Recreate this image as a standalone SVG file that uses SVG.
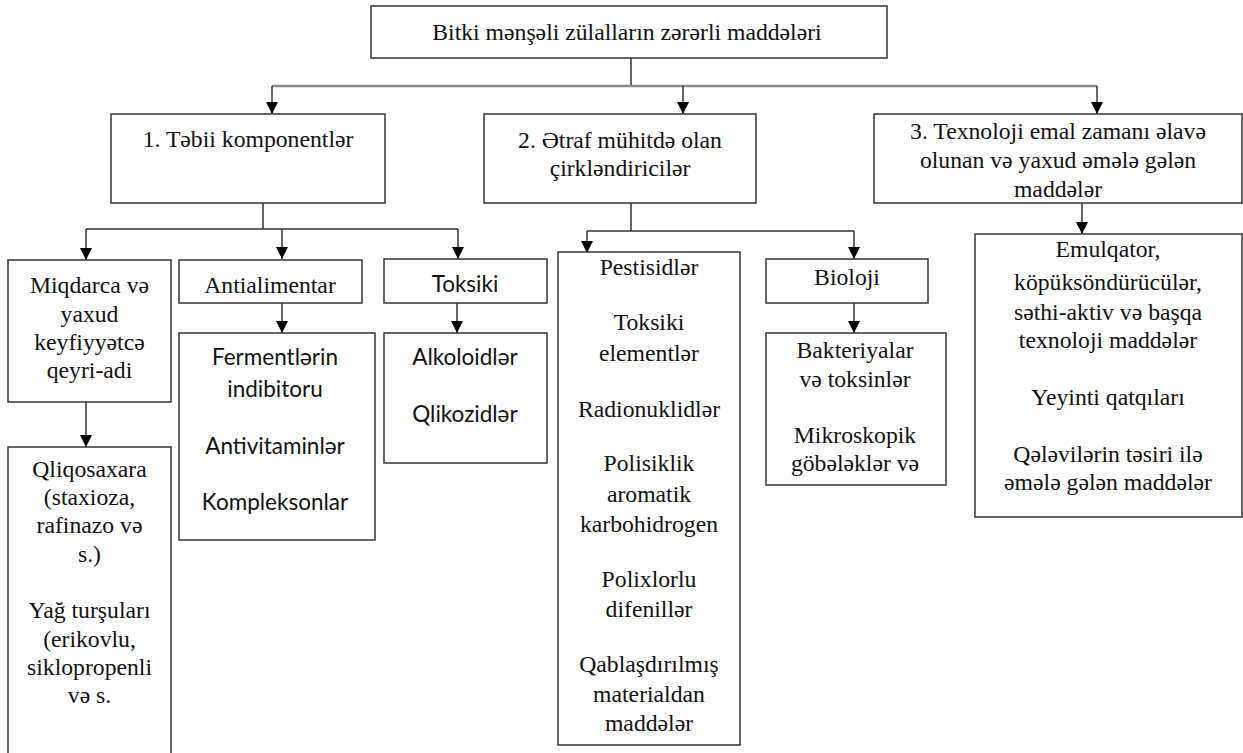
<svg xmlns="http://www.w3.org/2000/svg" width="1243" height="753" viewBox="0 0 1243 753">
<style>
.box{fill:#fff;stroke:#333;stroke-width:1.5}
.s{font-family:"Liberation Serif","Times New Roman","DejaVu Serif",serif;font-size:23.7px;fill:#111;text-anchor:middle}
.c{font-family:Lato,"Open Sans",sans-serif;font-size:22.5px;fill:#111;text-anchor:middle}
.ln{fill:none;stroke:#333;stroke-width:1.5}
.lg{fill:none;stroke:#888;stroke-width:2.5}
</style>
<defs>
<marker id="ah" viewBox="0 0 12 12" refX="12" refY="6" markerWidth="12" markerHeight="12" markerUnits="userSpaceOnUse" orient="auto">
<path d="M0,0 L12,6 L0,12 z" fill="#000"/>
</marker>
</defs>
<rect width="1243" height="753" fill="#fff"/>
<g id="connectors">
<path class="ln" d="M631,58 V86"/>
<path class="lg" d="M272,86 H1097"/>
<path class="ln" d="M272,86 V114" marker-end="url(#ah)"/>
<path class="ln" d="M683,86 V114" marker-end="url(#ah)"/>
<path class="ln" d="M1097,86 V114" marker-end="url(#ah)"/>
<path class="ln" d="M263,203 V229"/>
<path class="ln" d="M86,229 H458"/>
<path class="ln" d="M86,229 V260" marker-end="url(#ah)"/>
<path class="ln" d="M282,229 V259" marker-end="url(#ah)"/>
<path class="ln" d="M458,229 V259" marker-end="url(#ah)"/>
<path class="ln" d="M86,402 V447" marker-end="url(#ah)"/>
<path class="ln" d="M282,303 V333" marker-end="url(#ah)"/>
<path class="ln" d="M457,303 V333" marker-end="url(#ah)"/>
<path class="ln" d="M631,203 V231"/>
<path class="ln" d="M587,231 H854"/>
<path class="ln" d="M587,231 V253" marker-end="url(#ah)"/>
<path class="ln" d="M854,231 V259" marker-end="url(#ah)"/>
<path class="ln" d="M854,303 V333" marker-end="url(#ah)"/>
<path class="ln" d="M1082,203 V234" marker-end="url(#ah)"/>
</g>
<g id="root">
<rect class="box" x="371" y="6" width="516" height="52"/>
<text class="s" x="627" y="40">Bitki mənşəli zülalların zərərli maddələri</text>
</g>
<g id="n1">
<rect class="box" x="111" y="114" width="274" height="89"/>
<text class="s" x="248" y="147">1. Təbii komponentlər</text>
</g>
<g id="n2">
<rect class="box" x="484" y="114" width="272" height="89"/>
<text class="s" x="620" y="148">2. Ətraf mühitdə olan</text>
<text class="s" x="620" y="176">çirkləndiricilər</text>
</g>
<g id="n3">
<rect class="box" x="874" y="114" width="368" height="89"/>
<text class="s" x="1058" y="139">3. Texnoloji emal zamanı əlavə</text>
<text class="s" x="1058" y="168">olunan və yaxud əmələ gələn</text>
<text class="s" x="1058" y="197">maddələr</text>
</g>
<g id="miqdarca">
<rect class="box" x="8" y="260" width="163" height="142"/>
<text class="s" x="89.5" y="293">Miqdarca və</text>
<text class="s" x="89.5" y="322">yaxud</text>
<text class="s" x="89.5" y="350">keyfiyyətcə</text>
<text class="s" x="89.5" y="378">qeyri-adi</text>
</g>
<g id="qliqosaxara">
<rect class="box" x="8" y="447" width="163" height="320"/>
<text class="s" x="89.5" y="477">Qliqosaxara</text>
<text class="s" x="89.5" y="505">(staxioza,</text>
<text class="s" x="89.5" y="533">rafinazo və</text>
<text class="s" x="89.5" y="562">s.)</text>
<text class="s" x="89.5" y="618">Yağ turşuları</text>
<text class="s" x="89.5" y="647">(erikovlu,</text>
<text class="s" x="89.5" y="675">siklopropenli</text>
<text class="s" x="89.5" y="703">və s.</text>
</g>
<g id="antialimentar">
<rect class="box" x="179" y="260" width="183" height="43"/>
<text class="s" x="270" y="293">Antialimentar</text>
</g>
<g id="fermentler">
<rect class="box" x="179" y="333" width="196" height="207"/>
<text class="c" x="275" y="365">Fermentlərin</text>
<text class="c" x="275" y="397">indibitoru</text>
<text class="c" x="275" y="454">Antivitaminlər</text>
<text class="c" x="275" y="510">Kompleksonlar</text>
</g>
<g id="toksiki">
<rect class="box" x="384" y="259" width="163" height="44"/>
<text class="c" x="465" y="292">Toksiki</text>
</g>
<g id="alkoloidler">
<rect class="box" x="384" y="333" width="163" height="130"/>
<text class="c" x="465" y="365">Alkoloidlər</text>
<text class="c" x="465" y="422">Qlikozidlər</text>
</g>
<g id="pestisidler">
<rect class="box" x="558" y="252" width="182" height="493"/>
<text class="s" x="649" y="275">Pestisidlər</text>
<text class="s" x="649" y="330">Toksiki</text>
<text class="s" x="649" y="361">elementlər</text>
<text class="s" x="649" y="417">Radionuklidlər</text>
<text class="s" x="649" y="471">Polisiklik</text>
<text class="s" x="649" y="502">aromatik</text>
<text class="s" x="649" y="532">karbohidrogen</text>
<text class="s" x="649" y="587">Polixlorlu</text>
<text class="s" x="649" y="617">difenillər</text>
<text class="s" x="649" y="672">Qablaşdırılmış</text>
<text class="s" x="649" y="702">materialdan</text>
<text class="s" x="649" y="731">maddələr</text>
</g>
<g id="bioloji">
<rect class="box" x="766" y="259" width="162" height="44"/>
<text class="s" x="847" y="285">Bioloji</text>
</g>
<g id="bakteriyalar">
<rect class="box" x="766" y="333" width="180" height="152"/>
<text class="s" x="855" y="358">Bakteriyalar</text>
<text class="s" x="855" y="387">və toksinlər</text>
<text class="s" x="855" y="443">Mikroskopik</text>
<text class="s" x="855" y="471">göbələklər və</text>
</g>
<g id="emulqator">
<rect class="box" x="975" y="234" width="267" height="283"/>
<text class="s" x="1108" y="257">Emulqator,</text>
<text class="s" x="1108" y="290">köpüksöndürücülər,</text>
<text class="s" x="1108" y="320">səthi-aktiv və başqa</text>
<text class="s" x="1108" y="348">texnoloji maddələr</text>
<text class="s" x="1108" y="405">Yeyinti qatqıları</text>
<text class="s" x="1108" y="462">Qələvilərin təsiri ilə</text>
<text class="s" x="1108" y="490">əmələ gələn maddələr</text>
</g>
</svg>
